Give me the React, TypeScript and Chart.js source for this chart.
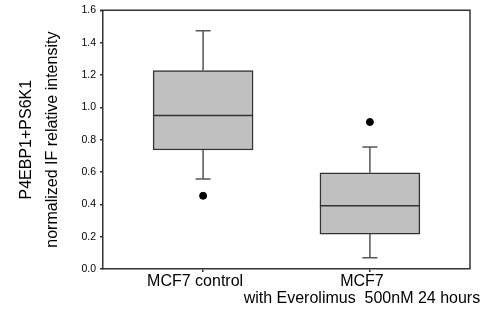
import React, { useEffect, useRef } from 'react';
import { Chart, registerables } from 'chart.js';

Chart.register(...registerables);

// ---- data ----
const categories: (string | string[])[] = ['MCF7 control', ['MCF7', 'with Everolimus  500nM 24 hours']];
const positions = [0, 1];
const lowerWhisker = [0.557, 0.069];
const q1 = [0.736, 0.216];
const median = [0.95, 0.391];
const q3 = [1.227, 0.595];
const upperWhisker = [1.474, 0.754];
const outliers = [0.453, 0.909];
const yTickValues = [0, 0.2, 0.4, 0.6, 0.8, 1.0, 1.2, 1.4, 1.6];
const yTitle = ['P4EBP1+PS6K1', 'normalized IF relative intensity'];

const FONT = "'Liberation Sans', Arial, sans-serif";

const boxPlugin = {
  id: 'boxExtras',
  afterDatasetsDraw(chart: any) {
    const ctx = chart.ctx;
    const y = chart.scales.y;
    const meta = chart.getDatasetMeta(0);
    ctx.save();
    positions.forEach((_, i) => {
      const bar = meta.data[i];
      if (!bar) return;
      const x = bar.x;
      const half = bar.width / 2;
      const capHalf = 7.5;
      // whiskers
      ctx.strokeStyle = '#555';
      ctx.lineWidth = 1.5;
      ctx.beginPath();
      ctx.moveTo(x, y.getPixelForValue(q3[i]));
      ctx.lineTo(x, y.getPixelForValue(upperWhisker[i]));
      ctx.moveTo(x, y.getPixelForValue(q1[i]));
      ctx.lineTo(x, y.getPixelForValue(lowerWhisker[i]));
      ctx.moveTo(x - capHalf, y.getPixelForValue(upperWhisker[i]));
      ctx.lineTo(x + capHalf, y.getPixelForValue(upperWhisker[i]));
      ctx.moveTo(x - capHalf, y.getPixelForValue(lowerWhisker[i]));
      ctx.lineTo(x + capHalf, y.getPixelForValue(lowerWhisker[i]));
      ctx.stroke();
      // median
      ctx.strokeStyle = '#333';
      ctx.beginPath();
      ctx.moveTo(x - half, y.getPixelForValue(median[i]));
      ctx.lineTo(x + half, y.getPixelForValue(median[i]));
      ctx.stroke();
    });
    ctx.restore();
  },
  afterDraw(chart: any) {
    const { ctx, chartArea } = chart;
    ctx.save();
    ctx.strokeStyle = '#333';
    ctx.lineWidth = 1.5;
    ctx.beginPath();
    ctx.moveTo(chartArea.left - 3, chartArea.top);
    ctx.lineTo(chartArea.right, chartArea.top);
    ctx.lineTo(chartArea.right, chartArea.bottom);
    ctx.stroke();
    ctx.restore();
  },
};

export default function App() {
  const ref = useRef<HTMLCanvasElement>(null);
  useEffect(() => {
    if (!ref.current) return;
    const chart = new Chart(ref.current, {
      type: 'bar',
      data: {
        datasets: [
          {
            type: 'bar',
            data: positions.map((p, i) => ({ x: p, y: [q1[i], q3[i]] })) as any,
            backgroundColor: '#c0c0c0',
            borderColor: '#333',
            borderWidth: 1.5,
            borderSkipped: false,
            barThickness: 100,
          } as any,
          {
            type: 'scatter',
            data: positions.map((p, i) => ({ x: p, y: outliers[i] })),
            backgroundColor: '#000',
            borderColor: '#000',
            pointRadius: 3.5,
            showLine: false,
          } as any,
        ],
      },
      options: {
        responsive: false,
        animation: false,
        events: [],
        layout: { padding: { top: 7, right: 31, left: 0, bottom: 0 } },
        plugins: { legend: { display: false }, tooltip: { enabled: false } },
        scales: {
          x: {
            type: 'linear',
            min: -0.6,
            max: 1.6,
            offset: false,
            afterBuildTicks: (scale: any) => {
              scale.ticks = positions.map((v) => ({ value: v }));
            },
            afterFit: (scale: any) => {
              scale.height = 43;
            },
            ticks: {
              callback: (v: any) => {
                const idx = positions.indexOf(Number(v));
                return idx >= 0 ? (categories[idx] as any) : '';
              },
              autoSkip: false,
              maxRotation: 0,
              font: { family: FONT, size: 16, lineHeight: 1.05 },
              color: '#000',
              padding: 1,
              labelOffset: -8,
            },
            grid: { offset: false, drawOnChartArea: false, tickLength: 3, color: '#333', lineWidth: 1.5 },
            border: { color: '#333', width: 1.5 },
          },
          y: {
            type: 'linear',
            min: 0,
            max: 1.6,
            afterBuildTicks: (scale: any) => {
              scale.ticks = yTickValues.map((v) => ({ value: v }));
            },
            afterFit: (scale: any) => {
              scale.width = 103;
            },
            ticks: {
              callback: (v: any) => Number(v).toFixed(1),
              font: { family: FONT, size: 10.5 },
              color: '#000',
              padding: 4,
            },
            grid: { drawOnChartArea: false, tickLength: 3, color: '#333', lineWidth: 1.5 },
            border: { color: '#333', width: 1.5 },
            title: {
              display: true,
              text: yTitle,
              font: { family: FONT, size: 16, lineHeight: 1.6 },
              color: '#000',
              padding: { top: 14, bottom: 0 },
            },
          },
        },
      },
      plugins: [boxPlugin],
    });
    return () => chart.destroy();
  }, []);
  return (
    <div style={{ position: 'absolute', left: 0, top: 0, width: 501, height: 312, background: '#fff' }}>
      <canvas ref={ref} width={501} height={312} />
    </div>
  );
}
